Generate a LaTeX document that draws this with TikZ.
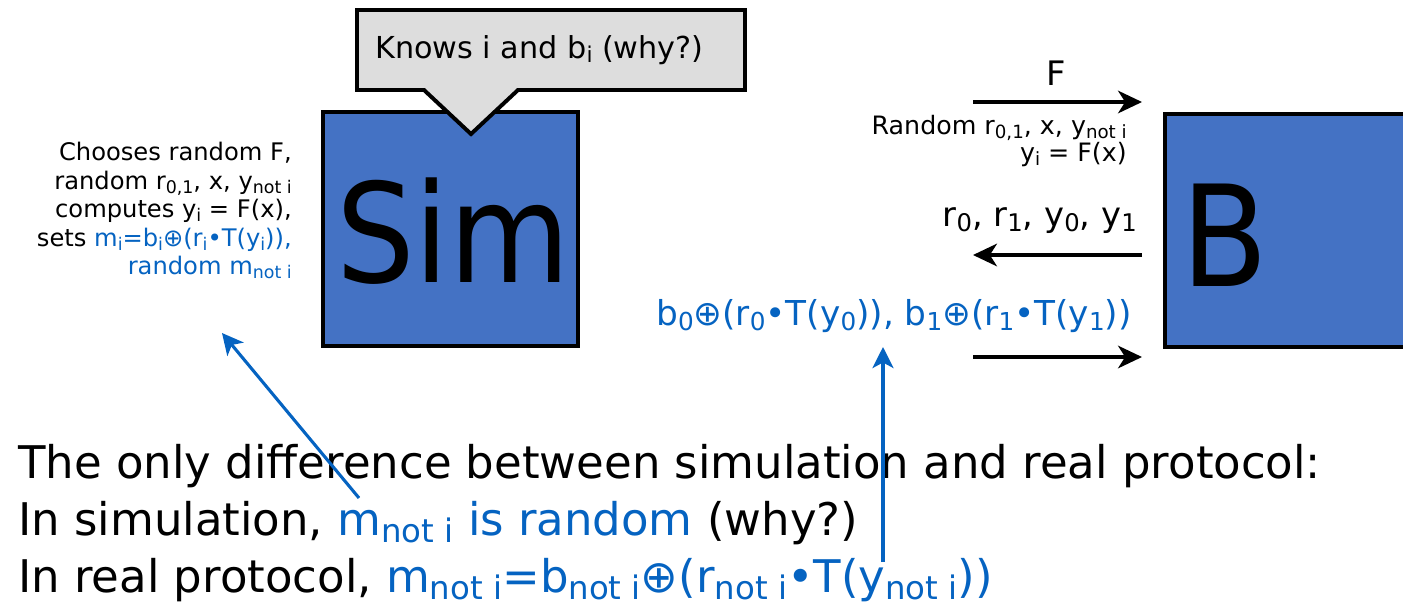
\documentclass[tikz,border=0pt]{standalone}
\usepackage{fontspec}
\setmainfont{DejaVu Sans}
\newfontfamily\condensed{DejaVu Sans Condensed}
\usetikzlibrary{arrows.meta}
\definecolor{partyblue}{RGB}{68,114,196}
\definecolor{msgblue}{RGB}{5,99,193}
\definecolor{notegray}{RGB}{221,221,221}
% lowered, smaller subscript text
\newcommand{\sbs}[1]{\raisebox{-0.3ex}{\scalebox{0.72}{#1}}}
\newcommand{\blue}[1]{\textcolor{msgblue}{#1}}
\begin{document}
\begin{tikzpicture}[x=0.025cm, y=-0.025cm,
    party/.style={draw=black, line width=2.8pt, fill=partyblue, inner sep=0pt},
    bigname/.style={font=\condensed\fontsize{98}{98}\selectfont, inner sep=0pt},
    msg/.style={-{Stealth[length=17pt, width=16pt, inset=5pt]}, line width=2.6pt},
    pointer/.style={msgblue, -{Stealth[length=15pt, width=15pt, inset=4pt]}, line width=2.2pt},
    small/.style={font=\fontsize{17.2}{20.3}\selectfont, inner sep=0pt},
    medium/.style={font=\fontsize{24}{28}\selectfont, inner sep=0pt},
    big/.style={font=\fontsize{32}{41}\selectfont, inner sep=0pt}]
    \useasboundingbox (0,0) rectangle (1403,607);

    % the two parties
    \node[party, minimum width=6.375cm, minimum height=5.85cm] (sim) at (450.5,229) {};
    \node[bigname] (simlabel) at (453,231) {Sim};
    \node[party, anchor=north west, minimum width=6.7cm, minimum height=5.825cm] (bob) at (1163,112) {};
    \node[bigname, font=\condensed\fontsize{100}{100}\selectfont] (boblabel) at (1225,235) {B};

    % callout above Sim
    \draw[line width=2.8pt, fill=notegray, line join=miter]
        (357,10) -- (745,10) -- (745,90) -- (518,90) -- (471,134) -- (424,90) -- (357,90) -- cycle;
    \node[medium, font=\fontsize{21.5}{28}\selectfont, anchor=base west] (knows) at (375,58) {Knows i and b\sbs{i} (why?)};

    % what Sim does
    \node[small, anchor=north east, align=right] (chooses) at (292,142)
        {Chooses random F,\\
         random r\sbs{0,1}, x, y\sbs{not i}\\
         computes y\sbs{i} = F(x),\\
         sets \blue{m\sbs{i}=b\sbs{i}⊕(r\sbs{i}•T(y\sbs{i})),}\\
         \blue{random m\sbs{not i}}};

    % messages between Sim and B
    \coordinate (f1) at (973,102);
    \coordinate (f2) at (1142,102);
    \draw[msg] (f1) -- (f2);
    \node[font=\fontsize{24}{24}\selectfont, inner sep=0pt] (flabel) at (1056,73) {F};
    \node[small, font=\fontsize{18}{17.8}\selectfont, anchor=north east, align=right] (randoms) at (1127,115)
        {Random r\sbs{0,1}, x, y\sbs{not i}\\ y\sbs{i} = F(x)};

    \coordinate (r1) at (1142,255);
    \coordinate (r2) at (973,255);
    \draw[msg] (r1) -- (r2);
    \node[medium, anchor=base east] (rys) at (1137,226) {r\sbs{0}, r\sbs{1}, y\sbs{0}, y\sbs{1}};

    \coordinate (m1) at (973,357);
    \coordinate (m2) at (1142,357);
    \draw[msg] (m1) -- (m2);
    \node[medium, font=\fontsize{24.4}{28}\selectfont, anchor=base east, text=msgblue] (masked) at (1132,325)
        {b\sbs{0}⊕(r\sbs{0}•T(y\sbs{0})), b\sbs{1}⊕(r\sbs{1}•T(y\sbs{1}))};

    % the remark below
    \node[big, anchor=base west] (line1) at (18,478) {The only difference between simulation and real protocol:};
    \node[big, anchor=base west] (line2) at (18,535) {In simulation, \blue{m\sbs{not i} is random} (why?)};
    \node[big, anchor=base west] (line3) at (18,592) {In real protocol, \blue{m\sbs{not i}=b\sbs{not i}⊕(r\sbs{not i}•T(y\sbs{not i}))}};

    % pointers from the remark
    \coordinate (p1) at (359,498);
    \coordinate (q1) at (222,333);
    \draw[pointer] (p1) -- (q1);
    \coordinate (p2) at (883,562);
    \coordinate (q2) at (883,347);
    \draw[pointer] (p2) -- (q2);
\end{tikzpicture}
\end{document}
